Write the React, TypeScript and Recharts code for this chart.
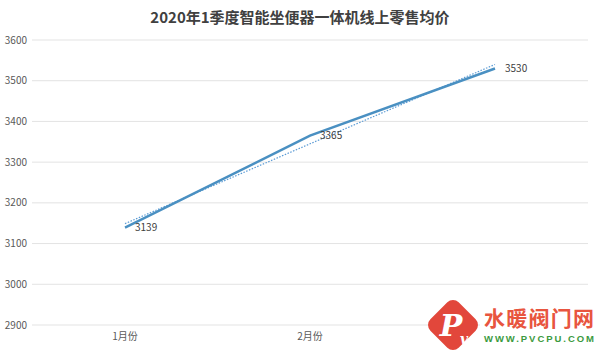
import React from "react";
import {
  CartesianGrid,
  LabelList,
  Line,
  LineChart,
  XAxis,
  YAxis,
} from "recharts";

const months = ["1月份", "2月份", "3月份"];
const avgPrice = [3139, 3365, 3530];
// dotted linear trend
const trendPrice = [3149, 3345, 3540];
const yTicks = [2900, 3000, 3100, 3200, 3300, 3400, 3500, 3600];

const chartData = months.map((month, i) => ({
  month,
  price: avgPrice[i],
  trend: trendPrice[i],
}));

const font = '"Noto Sans CJK SC", "Microsoft YaHei", sans-serif';

// site watermark pasted over the bottom-right corner (hides the 3月份 tick)
function Watermark() {
  return (
    <svg
      width={190}
      height={72}
      style={{ position: "absolute", left: 410, top: 280 }}
    >
      <rect x={70} y={28} width={118} height={44} fill="#fff" />
      <rect
        x={23}
        y={25}
        width={40}
        height={40}
        rx={8}
        fill="#e2473b"
        transform="rotate(45 43 45)"
      />
      <text
        x={41}
        y={56}
        textAnchor="middle"
        fill="#fff"
        fontSize={30}
        fontStyle="italic"
        fontWeight={700}
        fontFamily="'DejaVu Serif', serif"
      >
        P
      </text>
      <text
        x={50}
        y={64}
        fill="#fff"
        fontSize={14}
        fontStyle="italic"
        fontWeight={700}
        fontFamily="'DejaVu Serif', serif"
      >
        v
      </text>
      <text
        x={74}
        y={46}
        fill="#e8553f"
        fontSize={21}
        fontWeight={700}
        textLength={110}
        fontFamily={font}
      >
        水暖阀门网
      </text>
      <text
        x={74}
        y={62}
        fill="#3b9a3e"
        fontSize={9.5}
        fontWeight={700}
        textLength={110}
        fontFamily="Arial, 'Liberation Sans', sans-serif"
      >
        WWW.PVCPU.COM
      </text>
    </svg>
  );
}

export default function App() {
  return (
    <div
      style={{
        position: "absolute",
        left: 0,
        top: 0,
        width: 600,
        height: 352,
        background: "#fff",
        fontFamily: font,
        overflow: "hidden",
      }}
    >
      <div
        style={{
          position: "absolute",
          top: 6,
          width: 600,
          textAlign: "center",
          fontSize: 15,
          fontWeight: 700,
          color: "#404040",
        }}
      >
        2020年1季度智能坐便器一体机线上零售均价
      </div>
      <LineChart
        width={600}
        height={352}
        data={chartData}
        margin={{ top: 40, right: 12, bottom: 7, left: 0 }}
      >
        <CartesianGrid vertical={false} stroke="#e3e3e3" />
        <XAxis
          dataKey="month"
          axisLine={false}
          tickLine={false}
          tickSize={0}
          height={20}
          padding={{ left: 93, right: 93 }}
          tick={{ fill: "#595959", fontSize: 10, fontFamily: font }}
          tickMargin={8}
        />
        <YAxis
          domain={[2900, 3600]}
          ticks={yTicks}
          width={32}
          axisLine={false}
          tickLine={false}
          tickSize={0}
          tickMargin={5}
          tick={{ fill: "#595959", fontSize: 10, fontFamily: font }}
        />
        <Line
          dataKey="trend"
          stroke="#5b9bd5"
          strokeWidth={1.2}
          strokeDasharray="1.5 1.5"
          dot={false}
          isAnimationActive={false}
        />
        <Line
          dataKey="price"
          stroke="#4a90c2"
          strokeWidth={2.5}
          dot={false}
          isAnimationActive={false}
        >
          <LabelList
            dataKey="price"
            position="right"
            offset={10}
            style={{ fill: "#404040", fontSize: 10, fontFamily: font }}
          />
        </Line>
      </LineChart>
      <Watermark />
    </div>
  );
}
